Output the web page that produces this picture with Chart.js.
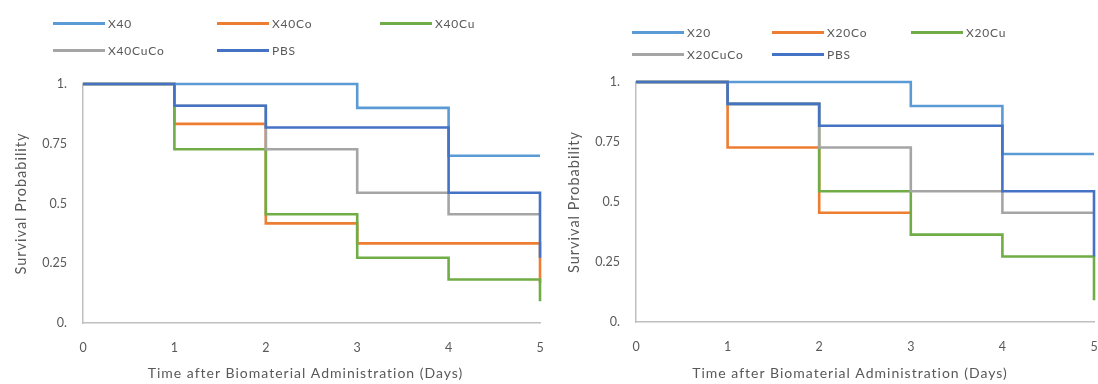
<!DOCTYPE html>
<html lang="en">
  <head>
    <meta charset="UTF-8" />
    <title>Survival Probability</title>
    <script src="https://cdn.jsdelivr.net/npm/chart.js"></script>
    <style>
      body { margin: 0; background: #fff; font-family: Lato, "Liberation Sans", sans-serif; }
      #wrap { position: relative; width: 1098px; height: 384px; overflow: hidden; }
      .panel { position: absolute; top: 0; width: 549px; height: 384px; }
      .legend { position: absolute; display: grid; color: #595959; font-size: 12px; letter-spacing: 0.8px; }
      .item { display: flex; align-items: center; height: 14px; }
      .swatch { width: 52px; height: 3px; margin-right: 3px; }
    </style>
  </head>
  <body>
    <div id="wrap">
      <div class="panel" style="left:0"><canvas id="chartX40"></canvas></div>
      <div class="panel" style="left:549px"><canvas id="chartX20"></canvas></div>
      <div class="legend" id="legendX40" style="left:53px;top:16px;grid-template-columns:164px 163px 120px;row-gap:13px"></div>
      <div class="legend" id="legendX20" style="left:632px;top:25px;grid-template-columns:140px 139px 120px;row-gap:8px"></div>
    </div>

    <script>
      // Kaplan-Meier estimates, one value per day (null = no further data)
      const days = [0, 1, 2, 3, 4, 5];

      const namesX40 = ["X40", "X40Co", "X40Cu", "X40CuCo", "PBS"];
      const x40 = [1, 1, 1, 0.9, 0.7, 0.7];
      const x40Co = [1, 0.833, 0.417, 0.333, 0.333, 0.167];
      const x40Cu = [1, 0.727, 0.455, 0.273, 0.182, 0.091];
      const x40CuCo = [1, 0.909, 0.727, 0.545, 0.455, 0.455];
      const pbsLeft = [1, 0.909, 0.818, 0.818, 0.545, 0.273];

      const namesX20 = ["X20", "X20Co", "X20Cu", "X20CuCo", "PBS"];
      const x20 = [1, 1, 1, 0.9, 0.7, 0.7];
      const x20Co = [1, 0.727, 0.455, 0.455, null, null];
      const x20Cu = [1, 0.909, 0.545, 0.364, 0.273, 0.091];
      const x20CuCo = [1, 0.909, 0.727, 0.545, 0.455, 0.455];
      const pbsRight = [1, 0.909, 0.818, 0.818, 0.545, 0.273];

      const xTickLabels = ["0", "1", "2", "3", "4", "5"];
      const yTickLabels = { 0: "0.", 0.25: "0.25", 0.5: "0.5", 0.75: "0.75", 1: "1." };
      const xTitle = "Time after Biomaterial Administration (Days)";
      const yTitle = "Survival Probability";

      const colors = ["#5B9BD5", "#ED7D31", "#70AD47", "#A5A5A5", "#4472C4"];
      const textColor = "#595959";
      const axisColor = "#BFBFBF";
      const fontFamily = "Lato, 'Liberation Sans', sans-serif";

      function toPoints(values) {
        const pts = [];
        values.forEach((v, i) => {
          if (v !== null) pts.push({ x: days[i], y: v });
        });
        return pts;
      }

      // axis titles with a bit of letter spacing
      const axisTitles = {
        id: "axisTitles",
        afterDraw(chart, args, opts) {
          const { ctx, chartArea } = chart;
          ctx.save();
          ctx.fillStyle = textColor;
          ctx.letterSpacing = "1px";
          ctx.textAlign = "center";
          ctx.textBaseline = "middle";
          ctx.font = "14px " + fontFamily;
          ctx.fillText(xTitle, (chartArea.left + chartArea.right) / 2 + opts.xShift, opts.xTitleY);
          ctx.translate(opts.yTitleX, (chartArea.top + chartArea.bottom) / 2);
          ctx.rotate(-Math.PI / 2);
          ctx.font = "14.5px " + fontFamily;
          ctx.fillText(yTitle, 0, 0);
          ctx.restore();
        },
      };

      function buildChart(id, names, series, plot) {
        const ctx = document.getElementById(id).getContext("2d");
        return new Chart(ctx, {
          type: "line",
          data: {
            datasets: series.map((values, i) => ({
              label: names[i],
              data: toPoints(values),
              borderColor: colors[i],
              backgroundColor: colors[i],
              borderWidth: 2.6,
              stepped: "before",
              pointRadius: 0,
              fill: false,
              clip: false,
              order: names.length - 1 - i, // later series on top
            })),
          },
          plugins: [axisTitles],
          options: {
            responsive: true,
            maintainAspectRatio: false,
            animation: false,
            layout: { padding: { top: plot.top, right: plot.right, left: 0, bottom: 0 } },
            plugins: {
              legend: { display: false },
              tooltip: { enabled: false },
              axisTitles: { xShift: plot.xShift, xTitleY: 373, yTitleX: plot.yTitleX },
            },
            scales: {
              x: {
                type: "linear",
                min: 0,
                max: 5,
                grid: { display: false, drawTicks: false },
                border: { display: true, color: axisColor, width: 1.5 },
                ticks: {
                  stepSize: 1,
                  padding: 17,
                  color: textColor,
                  font: { family: fontFamily, size: 12.5 },
                  callback: (v) => xTickLabels[v],
                },
                afterFit: (scale) => {
                  scale.height = plot.xHeight;
                  scale.paddingLeft = 0;
                  scale.paddingRight = 0;
                },
              },
              y: {
                min: 0,
                max: 1,
                grid: { display: false, drawTicks: false },
                border: { display: true, color: axisColor, width: 1.5 },
                ticks: {
                  stepSize: 0.25,
                  padding: 16,
                  color: textColor,
                  font: { family: fontFamily, size: 12.5 },
                  callback: (v) => yTickLabels[v],
                },
                afterFit: (scale) => { scale.width = plot.yWidth; },
              },
            },
          },
        });
      }

      function buildLegend(id, names) {
        const box = document.getElementById(id);
        names.forEach((name, i) => {
          const item = document.createElement("div");
          item.className = "item";
          item.innerHTML = '<span class="swatch" style="background:' + colors[i] + '"></span>' + name;
          box.appendChild(item);
        });
      }

      buildChart("chartX40", namesX40, [x40, x40Co, x40Cu, x40CuCo, pbsLeft],
        { top: 84, right: 9, xHeight: 61, yWidth: 83, xShift: -6, yTitleX: 21 });
      buildChart("chartX20", namesX20, [x20, x20Co, x20Cu, x20CuCo, pbsRight],
        { top: 82, right: 4, xHeight: 62, yWidth: 87, xShift: -15, yTitleX: 25 });

      buildLegend("legendX40", namesX40);
      buildLegend("legendX20", namesX20);
    </script>
  </body>
</html>
